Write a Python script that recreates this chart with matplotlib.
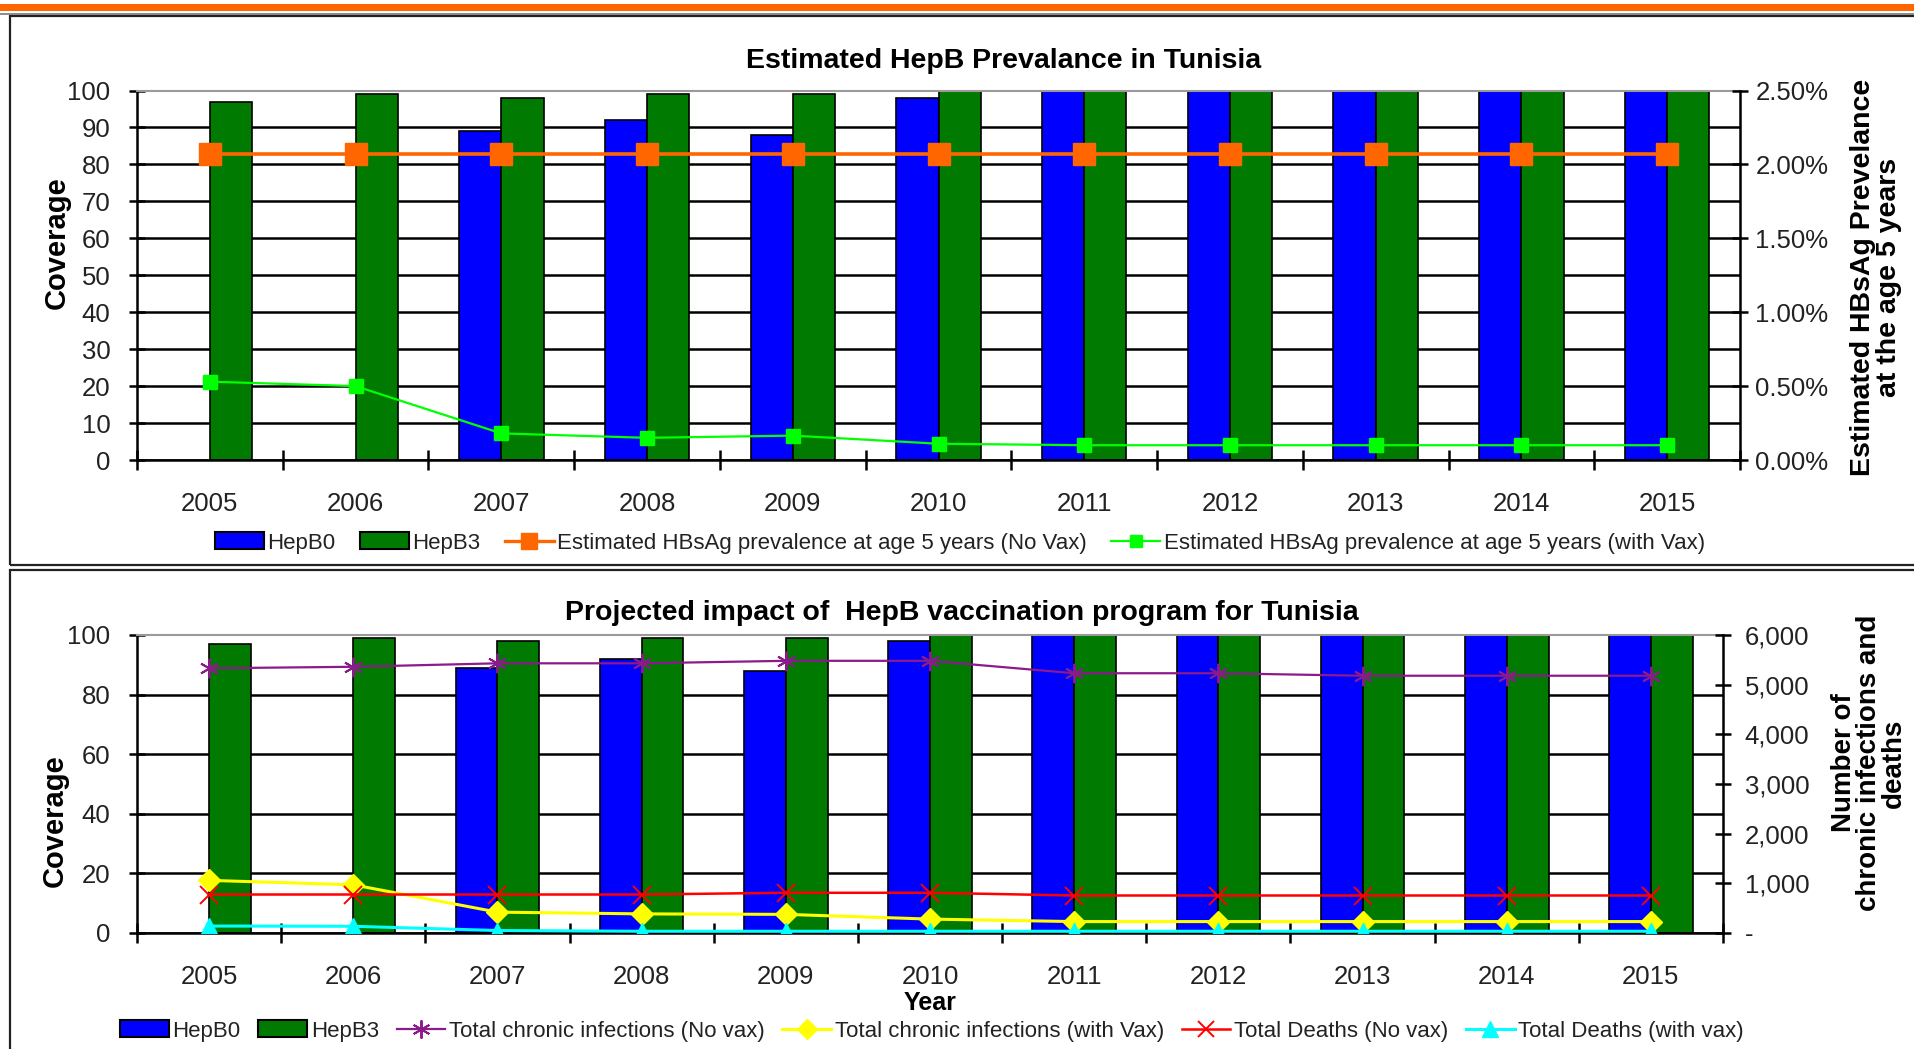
import numpy as np
import matplotlib
matplotlib.use('Agg')
import matplotlib.pyplot as plt
from matplotlib.patches import Rectangle, Patch
from matplotlib.lines import Line2D
from matplotlib.ticker import FuncFormatter

# ---------------- data ----------------
years = ['2005', '2006', '2007', '2008', '2009', '2010', '2011', '2012', '2013', '2014', '2015']
hepb0 = [np.nan, np.nan, 89, 92, 88, 98, 100, 100, 100, 100, 100]
hepb3 = [97, 99, 98, 99, 99, 100, 100, 100, 100, 100, 100]
prev_novax = [2.07, 2.07, 2.07, 2.07, 2.07, 2.07, 2.07, 2.07, 2.07, 2.07, 2.07]   # %
prev_vax = [0.53, 0.50, 0.18, 0.15, 0.165, 0.11, 0.10, 0.10, 0.10, 0.10, 0.10]   # %
chronic_novax = [5330, 5360, 5430, 5430, 5480, 5480, 5230, 5230, 5180, 5180, 5180]
chronic_vax = [1060, 970, 420, 385, 375, 280, 230, 230, 230, 230, 230]
deaths_novax = [775, 775, 775, 775, 810, 810, 755, 755, 755, 755, 755]
deaths_vax = [140, 135, 50, 35, 35, 35, 35, 35, 35, 35, 35]

top_title = 'Estimated HepB Prevalance in Tunisia'
bottom_title = 'Projected impact of  HepB vaccination program for Tunisia'

# ---------------- style ----------------
W, H = 1914, 1049
REG = ['Liberation Sans', 'DejaVu Sans']
plt.rcParams['font.family'] = REG
C_BLUE = '#0000FF'
C_GREEN = '#007A00'
C_ORANGE = '#FF6600'
C_LIME = '#00FF00'
C_PURPLE = '#8B1A8B'
C_YELLOW = '#FFFF00'
C_RED = '#FF0000'
C_CYAN = '#00FFFF'
TICKC = '#222222'
TICK_FS = 18.5
LEG_FS = 16

fig = plt.figure(figsize=(W / 100, H / 100), dpi=100)


def fx(px):
    return px / W


def fy(py):
    return 1 - py / H


def axes_px(x0, x1, y0, y1):
    return fig.add_axes([fx(x0), fy(y1), fx(x1) - fx(x0), fy(y0) - fy(y1)])


# ---------------- decorations (panels) ----------------
fig.add_artist(Rectangle((0, fy(11)), 1, fy(4) - fy(11), transform=fig.transFigure,
                         facecolor=C_ORANGE, edgecolor='none'))
fig.add_artist(Line2D([0, 1], [fy(13.5), fy(13.5)], transform=fig.transFigure,
                      color='#777777', lw=1.2))
fig.add_artist(Rectangle((fx(10), fy(565)), 1.0, fy(16.5) - fy(565), transform=fig.transFigure,
                         facecolor='none', edgecolor='#222222', lw=1.6))
fig.add_artist(Rectangle((fx(10), fy(1070)), 1.0, fy(569.5) - fy(1070), transform=fig.transFigure,
                         facecolor='none', edgecolor='#222222', lw=1.6))

x = np.arange(len(years))
bw = 0.29


def style_common(ax, ax2, left_pad, right_pad):
    ax.set_xlim(-0.5, len(years) - 0.5)
    ax.set_xticks(np.arange(-0.5, len(years), 1.0))
    ax.set_xticklabels([])
    ax.set_xticks(x, minor=True)
    ax.set_xticklabels(years, minor=True, fontsize=TICK_FS, color=TICKC)
    ax.tick_params(axis='x', which='major', direction='inout', length=14, width=1.8, color='black')
    ax.tick_params(axis='x', which='minor', length=0, pad=23)
    ax.tick_params(axis='y', direction='inout', length=12, width=1.8, pad=left_pad,
                   labelsize=TICK_FS, labelcolor=TICKC)
    ax.yaxis.grid(True, color='black', lw=1.8)
    ax.set_axisbelow(True)
    for s in ['left', 'bottom']:
        ax.spines[s].set_linewidth(1.8)
        ax.spines[s].set_color('black')
    ax.spines['top'].set_color('#9a9a9a')
    ax.spines['top'].set_linewidth(1.5)
    ax.spines['right'].set_visible(False)
    gl = ax.get_ygridlines()
    gl[-1].set_visible(False)
    ax2.tick_params(axis='y', direction='inout', length=11, width=1.8, pad=right_pad,
                    labelsize=TICK_FS, labelcolor=TICKC)
    ax2.spines['right'].set_linewidth(1.8)
    ax2.spines['right'].set_color('black')
    for s in ['left', 'top', 'bottom']:
        ax2.spines[s].set_visible(False)


# ---------------- top chart ----------------
ax1 = axes_px(137, 1740, 90.5, 460)
ax1.bar(x - bw / 2, hepb0, bw, color=C_BLUE, edgecolor='black', lw=1.2, zorder=2)
ax1.bar(x + bw / 2, hepb3, bw, color=C_GREEN, edgecolor='black', lw=1.2, zorder=2)
ax1.set_ylim(0, 100)
ax1.set_yticks(np.arange(0, 101, 10))
ax1r = ax1.twinx()
ax1r.plot(x, prev_novax, color=C_ORANGE, lw=2.6, marker='s', ms=16, mec=C_ORANGE, mfc=C_ORANGE)
ax1r.plot(x, prev_vax, color=C_LIME, lw=1.6, marker='s', ms=10, mec=C_LIME, mfc=C_LIME)
ax1r.set_ylim(0, 2.5)
ax1r.set_yticks(np.arange(0, 2.51, 0.5))
ax1r.yaxis.set_major_formatter(FuncFormatter(lambda v, p: f'{v:.2f}%'))
style_common(ax1, ax1r, 13, 5.5)

# ---------------- bottom chart ----------------
ax2 = axes_px(137, 1723, 635, 933)
ax2.bar(x - bw / 2, hepb0, bw, color=C_BLUE, edgecolor='black', lw=1.2, zorder=2)
ax2.bar(x + bw / 2, hepb3, bw, color=C_GREEN, edgecolor='black', lw=1.2, zorder=2)
ax2.set_ylim(0, 100)
ax2.set_yticks(np.arange(0, 101, 20))
ax2r = ax2.twinx()
ax2r.plot(x, chronic_novax, color=C_PURPLE, lw=1.6, marker=(6, 2, 0), ms=14, mew=1.4)
ax2r.plot(x, chronic_vax, color=C_YELLOW, lw=2.2, marker='D', ms=11, mec=C_YELLOW, mfc=C_YELLOW)
ax2r.plot(x, deaths_novax, color=C_RED, lw=1.8, marker='x', ms=13, mew=1.4)
ax2r.plot(x, deaths_vax, color=C_CYAN, lw=2.2, marker='^', ms=12, mec=C_CYAN, mfc=C_CYAN)
ax2r.set_ylim(0, 6000)
ax2r.set_yticks(np.arange(0, 6001, 1000))
ax2r.yaxis.set_major_formatter(FuncFormatter(lambda v, p: '-' if v == 0 else f'{int(v):,}'))
style_common(ax2, ax2r, 13, 10)

# ---------------- texts ----------------
fig.text(fx(1004), fy(61), top_title, ha='center', va='center', fontsize=20.5,
         fontweight='bold')
fig.text(fx(962), fy(613), bottom_title, ha='center', va='center', fontsize=20.5,
         fontweight='bold')
fig.text(fx(57), fy(243), 'Coverage', rotation=90, ha='center', va='center',
         fontsize=21, fontweight='bold')
fig.text(fx(55), fy(821), 'Coverage', rotation=90, ha='center', va='center',
         fontsize=21, fontweight='bold')
fig.text(fx(1876), fy(277), 'Estimated HBsAg Prevelance\nat the age 5 years', rotation=90,
         ha='center', va='center', multialignment='center', fontsize=20.5,
         fontweight='bold', linespacing=1.0)
fig.text(fx(1869), fy(763), 'Number of\nchronic infections and\ndeaths', rotation=90,
         ha='center', va='center', multialignment='center', fontsize=20,
         fontweight='bold', linespacing=0.95)
fig.text(fx(930), fy(1003), 'Year', ha='center', va='center', fontsize=18,
         fontweight='bold')

# ---------------- legends ----------------
bar0 = Patch(facecolor=C_BLUE, edgecolor='black', lw=1.5)
bar3 = Patch(facecolor=C_GREEN, edgecolor='black', lw=1.5)
h_top = [bar0, bar3,
         Line2D([], [], color=C_ORANGE, lw=2.4, marker='s', ms=11),
         Line2D([], [], color=C_LIME, lw=1.6, marker='s', ms=9)]
l_top = ['HepB0', 'HepB3', 'Estimated HBsAg prevalence at age 5 years (No Vax)',
         'Estimated HBsAg prevalence at age 5 years (with Vax)']
leg1 = fig.legend(h_top, l_top, loc='center', bbox_to_anchor=(fx(960), fy(543)), ncol=4,
                  frameon=False, prop={'size': LEG_FS}, handlelength=2.2,
                  handleheight=0.8, handletextpad=0.15, columnspacing=1.1)

h_bot = [bar0, bar3,
         Line2D([], [], color=C_PURPLE, lw=1.6, marker=(6, 2, 0), ms=13, mew=1.4),
         Line2D([], [], color=C_YELLOW, lw=2.2, marker='D', ms=10),
         Line2D([], [], color=C_RED, lw=1.8, marker='x', ms=12, mew=1.4),
         Line2D([], [], color=C_CYAN, lw=2.2, marker='^', ms=11)]
l_bot = ['HepB0', 'HepB3', 'Total chronic infections (No vax)', 'Total chronic infections (with Vax)',
         'Total Deaths (No vax)', 'Total Deaths (with vax)']
leg2 = fig.legend(h_bot, l_bot, loc='center', bbox_to_anchor=(fx(932), fy(1031)), ncol=6,
                  frameon=False, prop={'size': LEG_FS}, handlelength=2.2,
                  handleheight=0.8, handletextpad=0.15, columnspacing=0.8)
for lg in (leg1, leg2):
    for t in lg.get_texts():
        t.set_color(TICKC)

fig.savefig('out.png', dpi=100)
